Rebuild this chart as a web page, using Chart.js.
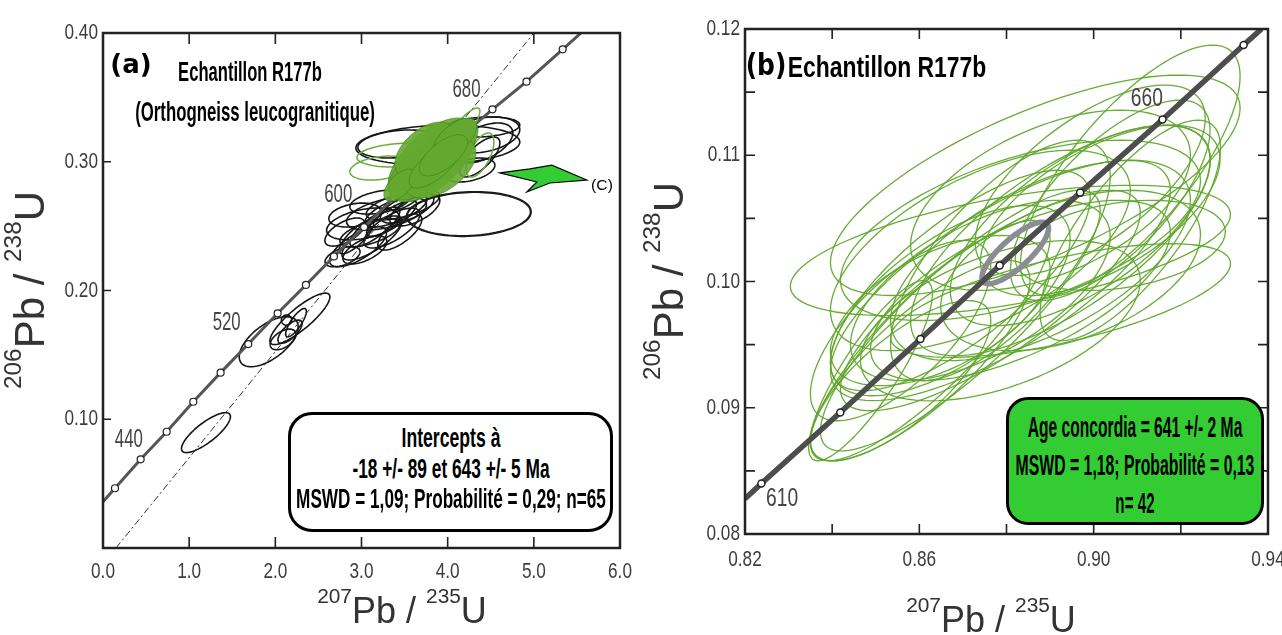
<!DOCTYPE html>
<html lang="fr">
<head>
<meta charset="utf-8">
<title>Echantillon R177b - diagrammes concordia</title>
<script src="https://cdn.jsdelivr.net/npm/chart.js@4.4.1/dist/chart.umd.min.js"></script>
<style>
  html, body { margin: 0; padding: 0; background: #fff; }
  body { position: relative; width: 1282px; height: 635px; overflow: hidden; }
  canvas { position: absolute; top: 0; }
  #chartA { left: 0; }
  #chartB { left: 640px; }
  .c { position: absolute; white-space: nowrap; line-height: 1; color: #000;
       transform: translate(-50%, -50%) scale(var(--x, 1), var(--s, 1)); }
  .n { font-family: "Liberation Sans", Arial, sans-serif; font-weight: bold; }
  .w { font-family: "DejaVu Sans", sans-serif; font-weight: bold; }
  .ax { font-family: "Liberation Sans", Arial, sans-serif; color: #333; font-weight: normal; }
  .rot { transform: translate(-50%, -50%) rotate(-90deg); }
  .sp { font-size: 0.58em; position: relative; top: -0.95em; }
  .box { position: absolute; box-sizing: border-box; border: 3.5px solid #000; }
</style>
</head>
<body>
<canvas id="chartA" width="640" height="635"></canvas>
<canvas id="chartB" width="642" height="635"></canvas>

<!-- panel (a) -->
<div class="c w" style="left:131px;top:64px;font-size:26px;">(a)</div>
<div class="c n" data-w="144" style="left:250px;top:72px;font-size:19px;--s:1.45;">Echantillon R177b</div>
<div class="c n" data-w="240" style="left:255px;top:111px;font-size:20px;--s:1.4;">(Orthogneiss leucogranitique)</div>
<div class="c n" data-w="22" style="left:602px;top:184px;font-size:15px;font-weight:normal;">(C)</div>
<div class="box" style="left:288px;top:412px;width:325px;height:120px;border-radius:24px;background:#fff;">
  <div class="c n" data-w="99" style="left:50%;top:22px;font-size:21px;--s:1.33;">Intercepts à</div>
  <div class="c n" data-w="197" style="left:50%;top:53px;font-size:21px;--s:1.33;">-18 +/- 89 et 643 +/- 5 Ma</div>
  <div class="c n" data-w="310" style="left:50%;top:83px;font-size:21px;--s:1.33;">MSWD = 1,09; Probabilité = 0,29; n=65</div>
</div>
<div class="c ax" style="left:402px;top:611px;font-size:36px;"><span class="sp">207</span>Pb / <span class="sp">235</span>U</div>
<div class="c ax rot" style="left:30px;top:290px;font-size:42px;"><span class="sp">206</span>Pb / <span class="sp">238</span>U</div>

<!-- panel (b) -->
<div class="c w" style="left:766px;top:65px;font-size:25px;--s:1.2;">(b)</div>
<div class="c n" data-w="199" style="left:887px;top:67px;font-size:26.5px;--s:1.1;">Echantillon R177b</div>
<div class="box" style="left:1006px;top:397px;width:258px;height:128px;border-radius:22px;background:#33cc33;">
  <div class="c n" data-w="215" style="left:50%;top:27px;font-size:19.5px;--s:1.55;">Age concordia = 641 +/- 2 Ma</div>
  <div class="c n" data-w="239" style="left:50%;top:65px;font-size:19.5px;--s:1.55;">MSWD = 1,18; Probabilité = 0,13</div>
  <div class="c n" data-w="39" style="left:50%;top:103px;font-size:19.5px;--s:1.55;">n= 42</div>
</div>
<div class="c ax" style="left:991px;top:620px;font-size:36px;"><span class="sp">207</span>Pb / <span class="sp">235</span>U</div>
<div class="c ax rot" style="left:669px;top:281px;font-size:42px;"><span class="sp">206</span>Pb / <span class="sp">238</span>U</div>

<script>
// ---------- panel (a): 207Pb/235U vs 206Pb/238U, discordia ----------
const a_markX = [0.139, 0.437, 0.739, 1.048, 1.365, 1.686, 2.027, 2.355, 2.68, 3.03, 3.38, 3.74, 4.12, 4.52, 4.915, 5.335];
const a_markY = [0.0464, 0.0689, 0.0903, 0.1136, 0.1362, 0.1584, 0.1823, 0.2043, 0.2265, 0.2493, 0.2721, 0.2949, 0.3178, 0.3407, 0.3622, 0.3873];
const a_curveStart = [0, 0.036];
const a_curveEnd = [5.547, 0.40];
const a_discX = [0.15, 5.0];
const a_discY = [0, 0.40];
const a_ageText = ['440', '520', '600', '680'];
const a_ageX = [0.30, 1.435, 2.73, 4.219];
const a_ageY = [0.0839, 0.1745, 0.2742, 0.3557];

// ellipses: [x, y, sx, sy, rho]
const a_black = [
  [1.195, 0.0896, 0.284, 0.0155, 0.80],
  [1.923, 0.1602, 0.342, 0.0194, 0.60],
  [2.285, 0.1780, 0.348, 0.0200, 0.85],
  [2.09, 0.1620, 0.150, 0.0080, 0.50],
  [2.17, 0.1680, 0.140, 0.0090, 0.70],
  [2.24, 0.1750, 0.120, 0.0110, 0.80],
  [2.13, 0.1770, 0.060, 0.0040, 0.00],
  [3.02, 0.2517, 0.425, 0.0124, 0.40],
  [3.29, 0.2600, 0.464, 0.0130, 0.50],
  [3.48, 0.2664, 0.426, 0.0117, 0.60],
  [2.96, 0.2340, 0.330, 0.0155, 0.70],
  [2.78, 0.2262, 0.203, 0.0078, 0.50],
  [3.155, 0.2493, 0.290, 0.0155, 0.80],
  [3.35, 0.2560, 0.290, 0.0140, 0.80],
  [3.53, 0.2640, 0.310, 0.0117, 0.60],
  [3.53, 0.2740, 0.230, 0.0117, 0.70],
  [2.94, 0.2415, 0.200, 0.0130, 0.80],
  [3.10, 0.2450, 0.350, 0.0110, 0.60],
  [3.40, 0.2620, 0.360, 0.0125, 0.70],
  [2.807, 0.2454, 0.232, 0.0109, 0.60],
  [3.121, 0.2408, 0.348, 0.0171, 0.75],
  [3.353, 0.2485, 0.325, 0.0155, 0.70],
  [3.619, 0.2625, 0.290, 0.0124, 0.60],
  [2.923, 0.2586, 0.302, 0.0093, 0.30],
  [3.213, 0.2687, 0.348, 0.0093, 0.40],
  [3.445, 0.2454, 0.255, 0.0140, 0.70],
  [3.039, 0.2315, 0.255, 0.0109, 0.60],
  [3.434, 0.3138, 0.476, 0.0109, 0.25],
  [3.886, 0.3130, 0.951, 0.0155, 0.15],
  [4.408, 0.3208, 0.429, 0.0140, 0.30],
  [4.408, 0.3146, 0.348, 0.0155, 0.50],
  [4.374, 0.3037, 0.232, 0.0155, 0.70],
  [4.258, 0.2936, 0.290, 0.0093, 0.40],
  [4.408, 0.3270, 0.429, 0.0078, 0.20]
];
const a_wide = [[4.246, 0.2594, 0.719, 0.0171, 0.10]];
const a_greenLine = [
  [3.213, 0.2951, 0.348, 0.0093, 0.30],
  [3.469, 0.3052, 0.522, 0.0093, 0.20],
  [4.165, 0.3247, 0.209, 0.0171, 0.85],
  [4.374, 0.3052, 0.162, 0.0171, 0.60]
];
const a_greenFill = [
  [3.817, 0.3014, 0.510, 0.0326, 0.60],
  [3.678, 0.2920, 0.371, 0.0217, 0.55],
  [4.026, 0.3130, 0.325, 0.0202, 0.55],
  [3.910, 0.2951, 0.418, 0.0233, 0.50],
  [3.735, 0.3091, 0.348, 0.0217, 0.50],
  [4.084, 0.3184, 0.255, 0.0155, 0.60],
  [3.445, 0.2819, 0.186, 0.0124, 0.60],
  [3.852, 0.2975, 0.300, 0.0180, 0.70],
  [3.950, 0.3050, 0.280, 0.0160, 0.65]
];
// pointer "(C)"
const a_arrowX = [4.606, 4.954, 5.209, 5.615, 5.186, 4.919, 5.035];
const a_arrowY = [0.2913, 0.2944, 0.2974, 0.2858, 0.2835, 0.2765, 0.2843];

// ---------- panel (b): concordia age ----------
const b_markX = [0.82376, 0.84186, 0.86024, 0.87843, 0.8969, 0.9158, 0.9344];
const b_markY = [0.0840, 0.08963, 0.09545, 0.10127, 0.10704, 0.11283, 0.11873];
const b_curveStart = [0.82, 0.0828];
const b_curveEnd = [0.9385, 0.12];
const b_ageText = ['610', '660'];
const b_ageX = [0.8285, 0.9122];
const b_ageY = [0.08275, 0.1145];
const b_mean = [[0.8820, 0.10226, 0.00764, 0.00244, 0.80]];
const b_green = [
  [0.8809, 0.10246, 0.0505, 0.00516, 0.55],
  [0.8866, 0.10762, 0.0470, 0.00873, 0.70],
  [0.9084, 0.10881, 0.0252, 0.00992, 0.75],
  [0.9061, 0.10286, 0.0241, 0.00357, 0.30],
  [0.9015, 0.10563, 0.0275, 0.00675, 0.60],
  [0.8763, 0.09849, 0.0344, 0.00873, 0.80],
  [0.8694, 0.09690, 0.0321, 0.01032, 0.85],
  [0.8625, 0.09532, 0.0275, 0.00952, 0.85],
  [0.8786, 0.10008, 0.0390, 0.00952, 0.75],
  [0.8924, 0.10325, 0.0344, 0.00913, 0.70],
  [0.8969, 0.10444, 0.0298, 0.00794, 0.65],
  [0.8878, 0.10167, 0.0344, 0.00794, 0.60],
  [0.8740, 0.09929, 0.0298, 0.00714, 0.60],
  [0.8832, 0.10405, 0.0413, 0.00714, 0.55],
  [0.9038, 0.10643, 0.0229, 0.00794, 0.70],
  [0.8671, 0.09849, 0.0275, 0.00754, 0.65],
  [0.8786, 0.09690, 0.0321, 0.00635, 0.50],
  [0.8947, 0.10087, 0.0298, 0.00635, 0.45],
  [0.8602, 0.09373, 0.0252, 0.00794, 0.80],
  [0.8901, 0.10643, 0.0321, 0.00714, 0.50],
  [0.8740, 0.10246, 0.0344, 0.00794, 0.60],
  [0.9084, 0.10405, 0.0207, 0.00873, 0.75],
  [0.8557, 0.09214, 0.0207, 0.00635, 0.75],
  [0.8924, 0.09849, 0.0390, 0.00450, 0.65],
  [0.8786, 0.10167, 0.0252, 0.00952, 0.70],
  [0.8992, 0.10802, 0.0264, 0.00754, 0.65],
  [0.8557, 0.09611, 0.0207, 0.00714, 0.70],
  [0.8648, 0.09770, 0.0252, 0.00595, 0.55],
  [0.8694, 0.10008, 0.0298, 0.00873, 0.75],
  [0.8832, 0.09929, 0.0344, 0.00714, 0.65],
  [0.8488, 0.09294, 0.0142, 0.00714, 0.85]
];

const SANS = '"Liberation Sans", Arial, sans-serif';

function pts(xs, ys) {
  return xs.map((x, i) => ({ x: x, y: ys[i] }));
}

function traceEllipse(ctx, xs, ys, e) {
  const [cx, cy, sx, sy, r] = e;
  const q = Math.sqrt(1 - r * r);
  ctx.beginPath();
  for (let i = 0; i <= 96; i++) {
    const t = i / 96 * Math.PI * 2;
    const px = xs.getPixelForValue(cx + sx * Math.cos(t));
    const py = ys.getPixelForValue(cy + sy * (r * Math.cos(t) + q * Math.sin(t)));
    if (i === 0) ctx.moveTo(px, py); else ctx.lineTo(px, py);
  }
  ctx.closePath();
}

function ellipsePlugin(under, over) {
  const draw = (chart, groups) => {
    const { ctx, chartArea: a, scales: { x, y } } = chart;
    ctx.save();
    ctx.beginPath();
    ctx.rect(a.left, a.top, a.right - a.left, a.bottom - a.top);
    ctx.clip();
    groups.forEach(g => {
      g.items.forEach(e => {
        traceEllipse(ctx, x, y, e);
        if (g.fill) { ctx.fillStyle = g.fill; ctx.fill(); }
        if (g.stroke) { ctx.strokeStyle = g.stroke; ctx.lineWidth = g.width; ctx.stroke(); }
      });
    });
    ctx.restore();
  };
  return {
    id: 'ellipses',
    beforeDatasetsDraw: chart => draw(chart, under),
    afterDatasetsDraw: chart => draw(chart, over)
  };
}

function stretchedText(ctx, txt, px, py, sx, sy) {
  ctx.save();
  ctx.translate(px, py);
  ctx.scale(sx, sy);
  ctx.fillText(txt, 0, 0);
  ctx.restore();
}

// frame, inward tick marks, tick labels and age labels along the concordia
function framePlugin(s) {
  return {
    id: 'frame',
    afterDraw(chart) {
      const { ctx, chartArea: a, scales: { x, y } } = chart;
      ctx.save();
      ctx.strokeStyle = '#222';
      ctx.lineWidth = 1.6;
      ctx.beginPath();
      x.ticks.forEach(t => {
        const p = x.getPixelForValue(t.value);
        if (p < a.left + 2 || p > a.right - 2) return;
        ctx.moveTo(p, a.bottom); ctx.lineTo(p, a.bottom - s.tx);
        if (s.top) { ctx.moveTo(p, a.top); ctx.lineTo(p, a.top + s.tx); }
      });
      y.ticks.forEach(t => {
        const p = y.getPixelForValue(t.value);
        if (p < a.top + 2 || p > a.bottom - 2) return;
        ctx.moveTo(a.left, p); ctx.lineTo(a.left + s.ty, p);
        if (s.right) { ctx.moveTo(a.right, p); ctx.lineTo(a.right - s.ty, p); }
      });
      ctx.stroke();
      ctx.lineWidth = s.w;
      ctx.strokeRect(a.left, a.top, a.right - a.left, a.bottom - a.top);

      // tick labels (narrow, tall face like the original)
      ctx.fillStyle = '#3c3c3c';
      ctx.font = '20px ' + SANS;
      ctx.textBaseline = 'middle';
      ctx.textAlign = 'center';
      x.ticks.forEach(t => {
        if (t.label) stretchedText(ctx, t.label, x.getPixelForValue(t.value), a.bottom + s.xLabGap, 0.86, 1.1);
      });
      ctx.textAlign = 'right';
      y.ticks.forEach(t => {
        if (t.label) stretchedText(ctx, t.label, a.left - 5, y.getPixelForValue(t.value), 0.86, 1.1);
      });

      ctx.fillStyle = '#444';
      ctx.textAlign = 'center';
      s.ages.forEach((txt, i) => {
        stretchedText(ctx, txt, x.getPixelForValue(s.ageX[i]), y.getPixelForValue(s.ageY[i]), s.ageSX, s.ageSY);
      });

      if (s.arrowX) {
        ctx.beginPath();
        s.arrowX.forEach((v, i) => {
          const px = x.getPixelForValue(v), py = y.getPixelForValue(s.arrowY[i]);
          if (i === 0) ctx.moveTo(px, py); else ctx.lineTo(px, py);
        });
        ctx.closePath();
        ctx.fillStyle = '#33cc33';
        ctx.fill();
        ctx.strokeStyle = '#000';
        ctx.lineWidth = 1.2;
        ctx.stroke();
      }
      ctx.restore();
    }
  };
}

function linAxis(min, max, step, fmt, size, isY) {
  return {
    type: 'linear',
    position: isY ? 'left' : 'bottom',
    min: min, max: max,
    grid: { display: false },
    border: { display: false },
    ticks: { display: false, stepSize: step, autoSkip: false, callback: fmt },
    afterFit(scale) {
      if (isY) { scale.width = size; scale.paddingTop = 0; scale.paddingBottom = 0; }
      else { scale.height = size; scale.paddingLeft = 0; scale.paddingRight = 0; }
    }
  };
}

function markSet(xs, ys, r, bw) {
  return { data: pts(xs, ys), pointRadius: r, pointBackgroundColor: '#fff',
           pointBorderColor: '#222', pointBorderWidth: bw, showLine: false };
}

// ---------- chart (a) ----------
new Chart(document.getElementById('chartA'), {
  type: 'scatter',
  data: {
    datasets: [
      markSet(a_markX, a_markY, 3.5, 1.2),
      { data: pts([a_curveStart[0]].concat(a_markX, [a_curveEnd[0]]), [a_curveStart[1]].concat(a_markY, [a_curveEnd[1]])),
        showLine: true, borderColor: '#555', borderWidth: 3, pointRadius: 0 },
      { data: pts(a_discX, a_discY), showLine: true, borderColor: '#333', borderWidth: 1,
        borderDash: [7, 3, 2, 3], pointRadius: 0 }
    ]
  },
  options: {
    responsive: false, animation: false, devicePixelRatio: 1,
    layout: { padding: { top: 33, right: 20, left: 0, bottom: 0 } },
    plugins: { legend: { display: false }, tooltip: { enabled: false } },
    scales: {
      x: linAxis(0, 6, 1, v => v.toFixed(1), 87, false),
      y: linAxis(0, 0.4, 0.1, v => (v === 0 ? '' : v.toFixed(2)), 103, true)
    }
  },
  plugins: [
    ellipsePlugin(
      [ { items: a_black, stroke: '#151515', width: 1.6 },
        { items: a_wide, stroke: '#1a1a1a', width: 2.2 } ],
      [ { items: a_greenLine, stroke: '#6aac3a', width: 1.5 },
        { items: a_greenFill, fill: 'rgba(100,168,48,0.9)', stroke: 'rgba(58,124,28,0.6)', width: 1 } ]
    ),
    framePlugin({ tx: 11, ty: 8, top: true, right: false, w: 2.5, xLabGap: 24,
                  ages: a_ageText, ageX: a_ageX, ageY: a_ageY, ageSX: 0.84, ageSY: 1.26,
                  arrowX: a_arrowX, arrowY: a_arrowY })
  ]
});

// ---------- chart (b) ----------
new Chart(document.getElementById('chartB'), {
  type: 'scatter',
  data: {
    datasets: [
      markSet(b_markX, b_markY, 3.5, 1.5),
      { data: pts([b_curveStart[0]].concat(b_markX, [b_curveEnd[0]]), [b_curveStart[1]].concat(b_markY, [b_curveEnd[1]])),
        showLine: true, borderColor: '#4d4d4d', borderWidth: 5.5, pointRadius: 0 }
    ]
  },
  options: {
    responsive: false, animation: false, devicePixelRatio: 1,
    layout: { padding: { top: 29, right: 14, left: 0, bottom: 0 } },
    plugins: { legend: { display: false }, tooltip: { enabled: false } },
    scales: {
      x: linAxis(0.82, 0.94, 0.02, v => (Math.round(v * 100) % 4 === 2 ? v.toFixed(2) : ''), 101, false),
      y: linAxis(0.08, 0.12, 0.005, v => (Math.round(v * 1000) % 10 === 0 ? v.toFixed(2) : ''), 105, true)
    }
  },
  plugins: [
    ellipsePlugin(
      [ { items: b_green, stroke: 'rgba(96,166,44,0.95)', width: 1.3 },
        { items: b_mean, stroke: '#8c8c94', width: 5.5 } ],
      []
    ),
    framePlugin({ tx: 10, ty: 10, top: true, right: true, w: 2.5, xLabGap: 26,
                  ages: b_ageText, ageX: b_ageX, ageY: b_ageY, ageSX: 0.96, ageSY: 1.3 })
  ]
});

// squeeze the condensed captions to the widths measured on the original
document.querySelectorAll('.c[data-w]').forEach(el => {
  el.style.setProperty('--x', (parseFloat(el.dataset.w) / el.offsetWidth).toFixed(3));
});
</script>
</body>
</html>
